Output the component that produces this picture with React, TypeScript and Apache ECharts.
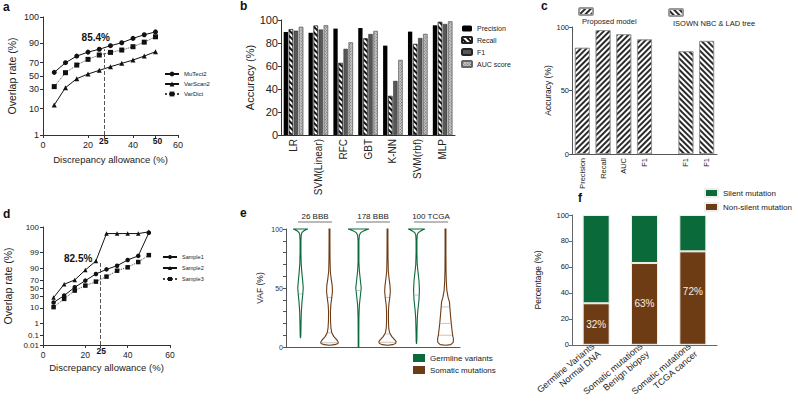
import React, { useEffect, useRef } from 'react';
import * as echarts from 'echarts';

const FONT = '"Liberation Sans", Arial, Helvetica, sans-serif';
const GREEN = '#0b6a3a';
const BROWN = '#6e3c14';
const INK = '#222';

// ---------- panel a ----------
const allowance = [5, 10, 15, 20, 25, 30, 35, 40, 45, 50];
const mutect2 = [55.7, 70, 78.4, 82.7, 85.4, 88.4, 90.5, 93.1, 94.8, 95.9];
const varscan2 = [12.7, 32.3, 45.8, 53.1, 58.8, 64.3, 69.1, 73.5, 78.4, 83.1];
const vardict = [33.8, 55.2, 66.7, 74.4, 79.6, 82.4, 84.7, 87.6, 90.9, 93.9];
const aYTicks = [1, 10, 30, 50, 70, 90, 99];
const aYLabels = ['1', '10', '30', '50', '70', '90', '100'];
const xTickLabels = [0, 20, 40, 60];
const cutoffX = 27; // dashed "25" allowance marker as drawn
const aHighlight = 85.4;

// ---------- panel b ----------
const models = ['LR', 'SVM(Linear)', 'RFC', 'GBT', 'K-NN', 'SVM(rbf)', 'MLP'];
const precision = [89.6, 88.9, 92.5, 93, 77.7, 89.9, 95.4];
const recall = [92, 95.1, 62.6, 84, 33.9, 79.1, 98.3];
const f1 = [90.7, 91.7, 74.9, 87.8, 47, 84.3, 96.5];
const auc = [94, 95.4, 80.5, 90.4, 65.2, 87.8, 98.8];

// ---------- panel c ----------
const cKeys = ['Precision', 'Recall', 'AUC', 'F1', 'gap', 'F1 NBC', 'F1 LAD'];
const cLabels = ['Precision', 'Recall', 'AUC', 'F1', '', 'F1', 'F1'];
const proposed = [83.6, 97.5, 94.3, 90.2, null, null, null];
const isown = [null, null, null, null, null, 80.9, 89];

// ---------- panel d ----------
const sample1 = [17.5, 31.6, 52.6, 69.1, 82.5, 89.2, 93, 96.8, 98.3, 99.986];
const sample2 = [27.1, 60.3, 70.7, 88.4, 96.3, 99.983, 99.983, 99.983, 99.983, 99.989];
const sample3 = [10.8, 24.3, 44, 56.9, 66.8, 77.7, 87.5, 91.5, 95.7, 98.5];
const dYTicks = [0.01, 0.1, 1, 10, 30, 50, 70, 90, 99, 99.997];
const dYLabels = ['0.01', '0.1', '1', '10', '30', '50', '70', '90', '99', '100'];
const dHighlight = 82.5;

// ---------- panel e (violin density profiles: [VAF %, relative density]) ----------
const vafGroups = ['26 BBB', '178 BBB', '100 TCGA'];
const vafSlots = ['G26', 'S26', 'G178', 'S178', 'G100', 'S100'];
const germlineViolins = [
  [[7.5, 0], [10, 0.03], [20, 0.05], [30, 0.08], [38, 0.14], [45, 0.22], [50, 0.26], [55, 0.22], [62, 0.14], [70, 0.07], [80, 0.04], [90, 0.04], [95, 0.07], [97, 0.14], [98.3, 0.3], [99.3, 0.52], [100, 0.7]],
  [[0, 0.03], [10, 0.03], [25, 0.04], [35, 0.08], [42, 0.16], [50, 0.26], [58, 0.16], [65, 0.08], [72, 0.04], [90, 0.04], [95, 0.09], [97, 0.22], [98.3, 0.48], [99.3, 0.78], [100, 1.0]],
  [[2.5, 0], [5, 0.03], [15, 0.05], [25, 0.08], [32, 0.14], [40, 0.24], [48, 0.28], [56, 0.24], [64, 0.14], [70, 0.07], [80, 0.04], [90, 0.04], [95, 0.07], [97, 0.17], [98.3, 0.4], [99.3, 0.62], [100, 0.8]],
];
const somaticViolins = [
  [[1.5, 0], [2, 0.5], [3, 0.8], [4, 0.84], [6, 0.7], [9, 0.4], [12, 0.22], [16, 0.14], [22, 0.1], [30, 0.09], [36, 0.13], [42, 0.22], [47, 0.28], [52, 0.26], [58, 0.16], [64, 0.08], [75, 0.05], [90, 0.04], [100, 0.04]],
  [[1.5, 0], [2, 0.5], [3, 0.78], [4.5, 0.83], [6, 0.7], [9, 0.4], [12, 0.2], [16, 0.12], [22, 0.09], [30, 0.09], [36, 0.13], [42, 0.22], [47, 0.27], [52, 0.24], [58, 0.15], [64, 0.08], [75, 0.05], [90, 0.04], [100, 0.04]],
  [[1.5, 0], [2, 0.5], [4, 0.74], [7, 0.76], [10, 0.68], [20, 0.55], [30, 0.45], [38, 0.38], [42, 0.25], [48, 0.13], [55, 0.08], [65, 0.05], [80, 0.04], [100, 0.04]],
];
const germlineQuartiles = [[45], [48], [44]];
const somaticQuartiles = [[3.6, 12, 42], [4, 11, 42], [10, 20, 34]];

// ---------- panel f ----------
const fCats = ['Germline Variants\nNormal DNA', 'Somatic mutations\nBenign biopsy', 'Somatic mutations\nTCGA cancer'];
const nonSilent = [32, 63, 72];
const silent = [68, 37, 28];

// ---------- probit scale ----------
function probit(p: number): number {
  const a = [-3.969683028665376e1, 2.209460984245205e2, -2.759285104469687e2, 1.38357751867269e2, -3.066479806614716e1, 2.506628277459239];
  const b = [-5.447609879822406e1, 1.615858368580409e2, -1.556989798598866e2, 6.680131188771972e1, -1.328068155288572e1];
  const c = [-7.784894002430293e-3, -3.223964580411365e-1, -2.400758277161838, -2.549671492484536, 4.374664141464968, 2.938163982698783];
  const d = [7.784695709041462e-3, 3.224671290700398e-1, 2.445134137142996, 3.754408661907416];
  const plow = 0.02425;
  if (p < plow) {
    const q = Math.sqrt(-2 * Math.log(p));
    return (((((c[0] * q + c[1]) * q + c[2]) * q + c[3]) * q + c[4]) * q + c[5]) / ((((d[0] * q + d[1]) * q + d[2]) * q + d[3]) * q + 1);
  }
  if (p <= 1 - plow) {
    const q = p - 0.5;
    const r = q * q;
    return ((((((a[0] * r + a[1]) * r + a[2]) * r + a[3]) * r + a[4]) * r + a[5]) * q) / (((((b[0] * r + b[1]) * r + b[2]) * r + b[3]) * r + b[4]) * r + 1);
  }
  const q = Math.sqrt(-2 * Math.log(1 - p));
  return -(((((c[0] * q + c[1]) * q + c[2]) * q + c[3]) * q + c[4]) * q + c[5]) / ((((d[0] * q + d[1]) * q + d[2]) * q + d[3]) * q + 1);
}
const pz = (pct: number) => probit(pct / 100);
const probitLabel = (ticks: number[], labels: string[]) => (v: number) => {
  const i = ticks.findIndex((t) => Math.abs(pz(t) - v) < 1e-6);
  return i >= 0 ? labels[i] : '';
};

function interpDensity(prof: number[][], v: number) {
  for (let i = 1; i < prof.length; i++) {
    if (v <= prof[i][0]) {
      const [v0, d0] = prof[i - 1];
      const [v1, d1] = prof[i];
      return d0 + ((d1 - d0) * (v - v0)) / (v1 - v0 || 1);
    }
  }
  return prof[prof.length - 1][1];
}

function violinRenderer(profiles: number[][][], quartiles: number[][], color: string) {
  return (params: any, api: any) => {
    const i = params.dataIndex;
    const idx = api.value(0);
    const prof = profiles[i];
    const cx = api.coord([idx, 0])[0];
    const k = api.size([1, 0])[0] * 0.36;
    const right = prof.map(([v, d]) => [cx + d * k, api.coord([idx, v])[1]]);
    const left = prof.slice().reverse().map(([v, d]) => [cx - d * k, api.coord([idx, v])[1]]);
    const children: any[] = [
      { type: 'polygon', shape: { points: right.concat(left) }, style: { fill: '#fff', stroke: color, lineWidth: 1.1 } },
    ];
    quartiles[i].forEach((q) => {
      const d = interpDensity(prof, q);
      const y = api.coord([idx, q])[1];
      children.push({ type: 'line', shape: { x1: cx - d * k + 0.8, y1: y, x2: cx + d * k - 0.8, y2: y }, style: { stroke: '#aaa', lineWidth: 0.7 } });
    });
    return { type: 'group', children };
  };
}

const axisLine = { show: true, onZero: false, lineStyle: { color: '#333', width: 1 } };
const tickStyle = { lineStyle: { color: '#333', width: 1 } };
const noSplit = { show: false };

function buildOption(): any {
  const letters = ['a', 'b', 'c', 'd', 'e', 'f'];
  const letterPos = [[3, 1], [240, 0], [541, 0], [3, 208], [240, 207], [578, 192]];
  const lineBase = { type: 'line', lineStyle: { color: '#111', width: 1 }, itemStyle: { color: '#111' }, symbolSize: 5 };
  const bBar = { type: 'bar', xAxisIndex: 1, yAxisIndex: 1, barWidth: 4.3, barGap: '18%' };
  const hidden = { symbol: 'circle', symbolSize: 1, itemStyle: { color: 'rgba(0,0,0,0)' } };
  const boldLbl = (dx: number, dy: number, size = 8.5) => ({ show: true, formatter: '{b}', offset: [dx, dy], fontWeight: 'bold', fontSize: size, color: '#111', fontFamily: FONT });

  return {
    animation: false,
    backgroundColor: '#fff',
    textStyle: { fontFamily: FONT, color: INK },
    title: letters.map((t, i) => ({ text: t, left: letterPos[i][0], top: letterPos[i][1], padding: 0, textStyle: { fontSize: 12, fontWeight: 'bold', color: '#111', fontFamily: FONT } })),
    grid: [
      { left: 43, top: 17, width: 135, height: 118 },
      { left: 281, top: 20, width: 174, height: 115 },
      { left: 572, top: 27, width: 145, height: 127 },
      { left: 43, top: 227, width: 127, height: 118 },
      { left: 286, top: 229, width: 174, height: 118 },
      { left: 572, top: 215, width: 145, height: 131 },
    ],
    xAxis: [
      { gridIndex: 0, type: 'value', min: 0, max: 60, axisLine, splitLine: noSplit,
        axisTick: { ...tickStyle, length: 3, customValues: [0, 20, cutoffX, 40, 50, 60] },
        axisLabel: { customValues: xTickLabels, fontSize: 9, margin: 5, color: INK },
        name: 'Discrepancy allowance (%)', nameLocation: 'middle', nameGap: 19, nameTextStyle: { fontSize: 9.5, color: INK } },
      { gridIndex: 1, type: 'category', data: models, axisLine, axisTick: { show: false },
        axisLabel: { rotate: 90, interval: 0, fontSize: 10, margin: 4, color: INK } },
      { gridIndex: 2, type: 'category', data: cKeys, axisLine: { ...axisLine, lineStyle: { color: '#555' } }, axisTick: { show: false },
        axisLabel: { rotate: 90, interval: 0, fontSize: 7.5, margin: 4, color: INK, formatter: (v: string) => cLabels[cKeys.indexOf(v)] } },
      { gridIndex: 3, type: 'value', min: 0, max: 60, axisLine, splitLine: noSplit,
        axisTick: { ...tickStyle, length: 3, customValues: [0, 20, cutoffX, 40, 60] },
        axisLabel: { customValues: xTickLabels, fontSize: 8.5, margin: 5, color: INK },
        name: 'Discrepancy allowance (%)', nameLocation: 'middle', nameGap: 17, nameTextStyle: { fontSize: 9.5, color: INK } },
      { gridIndex: 4, type: 'category', data: vafSlots, axisLine: { ...axisLine, lineStyle: { color: '#555' } }, axisTick: { show: false }, axisLabel: { show: false } },
      { gridIndex: 5, type: 'category', data: fCats, axisLine: { ...axisLine, lineStyle: { color: '#666' } }, axisTick: { show: false },
        axisLabel: { rotate: 40, interval: 0, fontSize: 9, lineHeight: 10, margin: 4, color: INK } },
    ],
    yAxis: [
      { gridIndex: 0, type: 'value', min: pz(aYTicks[0]), max: pz(aYTicks[aYTicks.length - 1]), axisLine, splitLine: noSplit,
        axisTick: { ...tickStyle, length: 3, customValues: aYTicks.map(pz) },
        axisLabel: { customValues: aYTicks.map(pz), formatter: probitLabel(aYTicks, aYLabels), fontSize: 9, margin: 4, color: INK },
        name: 'Overlap rate (%)', nameLocation: 'middle', nameGap: 26, nameTextStyle: { fontSize: 10.5, color: INK } },
      { gridIndex: 1, type: 'value', min: 0, max: 100, interval: 20, axisLine, splitLine: noSplit,
        axisTick: { show: true, ...tickStyle, length: 3 }, axisLabel: { fontSize: 11, margin: 3, color: INK },
        name: 'Accuracy (%)', nameLocation: 'middle', nameGap: 25, nameTextStyle: { fontSize: 11, color: INK } },
      { gridIndex: 2, type: 'value', min: 0, max: 100, interval: 50, axisLine: { ...axisLine, lineStyle: { color: '#555' } }, splitLine: noSplit,
        axisTick: { show: true, length: 3, lineStyle: { color: '#555' } }, axisLabel: { fontSize: 7.5, margin: 3, color: INK },
        name: 'Accuracy (%)', nameLocation: 'middle', nameGap: 20, nameTextStyle: { fontSize: 8.5, color: INK } },
      { gridIndex: 3, type: 'value', min: pz(dYTicks[0]), max: pz(dYTicks[dYTicks.length - 1]), axisLine, splitLine: noSplit,
        axisTick: { ...tickStyle, length: 3, customValues: dYTicks.map(pz) },
        axisLabel: { customValues: dYTicks.map(pz), formatter: probitLabel(dYTicks, dYLabels), fontSize: 8, margin: 4, color: INK },
        name: 'Overlap rate (%)', nameLocation: 'middle', nameGap: 30, nameTextStyle: { fontSize: 10.5, color: INK } },
      { gridIndex: 4, type: 'value', min: 0, max: 100, interval: 10, axisLine: { ...axisLine, lineStyle: { color: '#555' } }, splitLine: noSplit,
        axisTick: { show: true, length: 3, lineStyle: { color: '#555' } },
        axisLabel: { fontSize: 7, margin: 3, color: '#333', formatter: (v: number) => (v % 50 === 0 ? String(v) : '') },
        name: 'VAF (%)', nameLocation: 'middle', nameGap: 22, nameTextStyle: { fontSize: 8.5, color: INK } },
      { gridIndex: 5, type: 'value', min: 0, max: 100, interval: 20, axisLine: { ...axisLine, lineStyle: { color: '#666' } }, splitLine: noSplit,
        axisTick: { show: true, length: 3, lineStyle: { color: '#666' } }, axisLabel: { fontSize: 7.5, margin: 3, color: INK },
        name: 'Percentage (%)', nameLocation: 'middle', nameGap: 30, nameTextStyle: { fontSize: 8.5, color: INK } },
    ],
    legend: [
      { data: ['MuTect2', 'VarScan2', 'VarDict'], left: 164, top: 71, orient: 'vertical', itemWidth: 14, itemHeight: 6, itemGap: 4, padding: 0, selectedMode: false, textStyle: { fontSize: 6, color: INK, fontFamily: FONT } },
      { data: ['Precision', 'Recall', 'F1', 'AUC score'], left: 461, top: 25, orient: 'vertical', itemWidth: 10, itemHeight: 6, itemGap: 4, padding: 0, selectedMode: false, textStyle: { fontSize: 7, color: INK, fontFamily: FONT } },
      { data: ['Proposed model'], left: 578, top: 7, itemWidth: 14, itemHeight: 7, padding: 0, selectedMode: false, formatter: () => '' },
      { data: ['ISOWN NBC & LAD tree'], left: 668, top: 8, itemWidth: 14, itemHeight: 7, padding: 0, selectedMode: false, formatter: () => '' },
      { data: ['Sample1', 'Sample2', 'Sample3'], left: 162, top: 254, orient: 'vertical', itemWidth: 14, itemHeight: 5, itemGap: 5, padding: 0, selectedMode: false, textStyle: { fontSize: 5.5, color: INK, fontFamily: FONT } },
      { data: ['Germline variants', 'Somatic mutations'], left: 413, top: 354, orient: 'vertical', icon: 'rect', itemWidth: 12, itemHeight: 8, itemGap: 4, padding: 0, selectedMode: false, textStyle: { fontSize: 8, color: INK, fontFamily: FONT } },
      { data: ['Silent mutation', 'Non-silent mutation'], left: 704, top: 188, orient: 'vertical', icon: 'rect', itemWidth: 13, itemHeight: 8, itemGap: 4, padding: 0, selectedMode: false, textStyle: { fontSize: 8, color: INK, fontFamily: FONT } },
    ],
    graphic: [
      { type: 'text', x: 582, y: 17, style: { text: 'Proposed model', font: `7.5px ${FONT}`, fill: INK } },
      { type: 'text', x: 673, y: 19, style: { text: 'ISOWN NBC & LAD tree', font: `7.5px ${FONT}`, fill: INK } },
    ],
    series: [
      // panel a
      { ...lineBase, name: 'MuTect2', xAxisIndex: 0, yAxisIndex: 0, symbol: 'circle', data: allowance.map((x, i) => [x, pz(mutect2[i])]),
        markLine: { silent: true, symbol: ['none', 'none'], label: { show: false }, lineStyle: { type: 'dashed', color: '#555', width: 1 },
          data: [[{ coord: [cutoffX, pz(aYTicks[0])] }, { coord: [cutoffX, pz(aHighlight)] }]] },
        markPoint: { ...hidden, data: [
          { name: `${aHighlight}%`, coord: [cutoffX, pz(aHighlight)], label: boldLbl(-8, -12, 10) },
          { name: '25', coord: [cutoffX, pz(aYTicks[0])], label: boldLbl(0, 6) },
          { name: '50', coord: [50, pz(aYTicks[0])], label: boldLbl(2, 6) },
        ] } },
      { ...lineBase, name: 'VarScan2', xAxisIndex: 0, yAxisIndex: 0, symbol: 'triangle', data: allowance.map((x, i) => [x, pz(varscan2[i])]) },
      { ...lineBase, name: 'VarDict', xAxisIndex: 0, yAxisIndex: 0, symbol: 'rect', lineStyle: { color: '#444', width: 1, type: 'dotted' }, data: allowance.map((x, i) => [x, pz(vardict[i])]) },
      // panel b
      { ...bBar, name: 'Precision', data: precision, itemStyle: { color: '#000' } },
      { ...bBar, name: 'Recall', data: recall, itemStyle: { color: '#fff', borderColor: '#222', borderWidth: 0.5,
        decal: { symbol: 'rect', symbolSize: 1, color: '#111', dashArrayX: [1, 0], dashArrayY: [1.2, 1.6], rotation: Math.PI / 4 } } },
      { ...bBar, name: 'F1', data: f1, itemStyle: { color: '#575757', borderColor: '#222', borderWidth: 0.5 } },
      { ...bBar, name: 'AUC score', data: auc, itemStyle: { color: '#c8c8c8', borderColor: '#666', borderWidth: 0.5,
        decal: { symbol: 'rect', symbolSize: 1, color: '#6a6a6a', dashArrayX: [1, 1], dashArrayY: [1, 1], rotation: Math.PI / 4 } } },
      // panel c
      { type: 'bar', name: 'Proposed model', xAxisIndex: 2, yAxisIndex: 2, data: proposed, barWidth: '72%', barGap: '-100%',
        itemStyle: { color: '#fff', borderColor: '#999', borderWidth: 0.8,
          decal: { symbol: 'rect', symbolSize: 1, color: '#2a2a2a', dashArrayX: [1, 0], dashArrayY: [1.3, 1.5], rotation: -Math.PI / 4 } } },
      { type: 'bar', name: 'ISOWN NBC & LAD tree', xAxisIndex: 2, yAxisIndex: 2, data: isown, barWidth: '72%', barGap: '-100%',
        itemStyle: { color: '#fff', borderColor: '#999', borderWidth: 0.8,
          decal: { symbol: 'rect', symbolSize: 1, color: '#2a2a2a', dashArrayX: [1, 0], dashArrayY: [1.3, 1.5], rotation: Math.PI / 4 } } },
      // panel d
      { ...lineBase, name: 'Sample1', xAxisIndex: 3, yAxisIndex: 3, symbol: 'circle', symbolSize: 4.5, data: allowance.map((x, i) => [x, pz(sample1[i])]),
        markLine: { silent: true, symbol: ['none', 'none'], label: { show: false }, lineStyle: { type: 'dashed', color: '#555', width: 1 },
          data: [[{ coord: [cutoffX, pz(dYTicks[0])] }, { coord: [cutoffX, pz(96)] }]] },
        markPoint: { ...hidden, data: [
          { name: `${dHighlight}%`, coord: [cutoffX, pz(dHighlight)], label: boldLbl(-22, -15, 10) },
          { name: '25', coord: [cutoffX, pz(dYTicks[0])], label: boldLbl(1, 6) },
        ] } },
      { ...lineBase, name: 'Sample2', xAxisIndex: 3, yAxisIndex: 3, symbol: 'triangle', symbolSize: 4.5, data: allowance.map((x, i) => [x, pz(sample2[i])]) },
      { ...lineBase, name: 'Sample3', xAxisIndex: 3, yAxisIndex: 3, symbol: 'rect', symbolSize: 4.5, lineStyle: { color: '#444', width: 1, type: 'dotted' }, data: allowance.map((x, i) => [x, pz(sample3[i])]) },
      // panel e
      { type: 'custom', name: 'Germline variants', xAxisIndex: 4, yAxisIndex: 4, clip: false, silent: true, itemStyle: { color: GREEN },
        data: germlineViolins.map((_, i) => [i * 2, 0]), renderItem: violinRenderer(germlineViolins, germlineQuartiles, GREEN) },
      { type: 'custom', name: 'Somatic mutations', xAxisIndex: 4, yAxisIndex: 4, clip: false, silent: true, itemStyle: { color: BROWN },
        data: somaticViolins.map((_, i) => [i * 2 + 1, 0]), renderItem: violinRenderer(somaticViolins, somaticQuartiles, BROWN) },
      { type: 'custom', name: 'groups', xAxisIndex: 4, yAxisIndex: 4, clip: false, silent: true,
        data: vafGroups.map((_, i) => [i * 2, 100]),
        renderItem: (params: any, api: any) => {
          const p0 = api.coord([api.value(0), 100]);
          const p1 = api.coord([api.value(0) + 1, 100]);
          const mid = (p0[0] + p1[0]) / 2;
          const top = p0[1];
          return { type: 'group', children: [
            { type: 'text', x: mid, y: top - 9, style: { text: vafGroups[params.dataIndex], textAlign: 'center', textVerticalAlign: 'bottom', font: `8px ${FONT}`, fill: INK } },
            { type: 'line', shape: { x1: mid - 17, y1: top - 7, x2: mid + 17, y2: top - 7 }, style: { stroke: '#777', lineWidth: 1 } },
          ] };
        } },
      // panel f
      { type: 'bar', name: 'Non-silent mutation', stack: 'f', xAxisIndex: 5, yAxisIndex: 5, barWidth: 27,
        data: nonSilent.map((v, i) => ({ value: v, label: { offset: [0, i === nonSilent.length - 1 ? -7 : 0] } })),
        itemStyle: { color: BROWN, borderColor: '#eee', borderWidth: 1 },
        label: { show: true, position: 'inside', formatter: '{c}%', color: '#f6ede6', fontSize: 10, fontFamily: FONT } },
      { type: 'bar', name: 'Silent mutation', stack: 'f', xAxisIndex: 5, yAxisIndex: 5, data: silent, barWidth: 27,
        itemStyle: { color: GREEN, borderColor: '#eee', borderWidth: 1 } },
    ],
  };
}

export default function App() {
  const ref = useRef<HTMLDivElement>(null);
  useEffect(() => {
    if (!ref.current) return;
    const chart = echarts.init(ref.current, null, { renderer: 'svg' });
    chart.setOption(buildOption());
    return () => chart.dispose();
  }, []);
  return <div ref={ref} style={{ position: 'fixed', left: 0, top: 0, width: 798, height: 406, background: '#fff' }} />;
}
